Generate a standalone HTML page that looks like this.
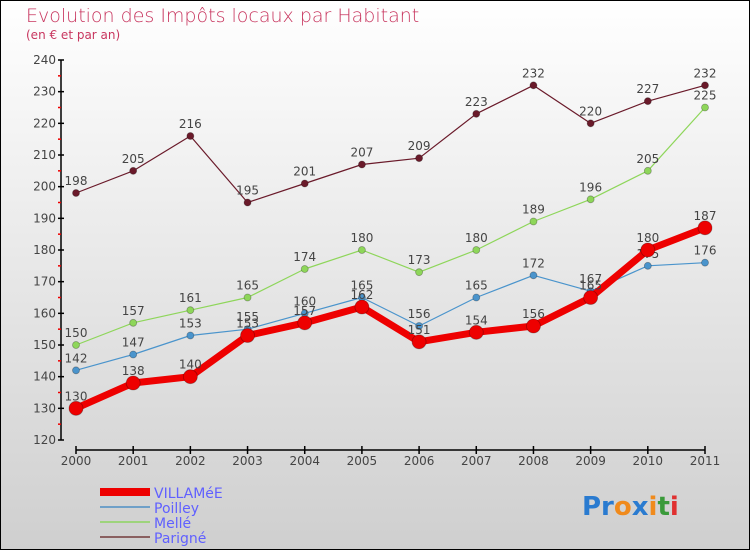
<!DOCTYPE html>
<html><head><meta charset="utf-8"><style>
body{margin:0}
svg{display:block;font-family:"DejaVu Sans","Liberation Sans",sans-serif}
</style></head><body>
<svg id="c" width="750" height="550" viewBox="0 0 750 550">
<defs><linearGradient id="bg" x1="0" y1="0" x2="0" y2="1"><stop offset="0" stop-color="#ffffff"/><stop offset="1" stop-color="#cfcfcf"/></linearGradient></defs>
<rect x="0.5" y="0.5" width="749" height="549" fill="url(#bg)" stroke="#000"/>
<text x="26" y="22" font-size="19" fill="#c8365f" font-weight="300">Evolution des Impôts locaux par Habitant</text>
<text x="26" y="39" font-size="12" fill="#c8365f">(en € et par an)</text>
<g id="axes"></g>
<g id="series"></g>
<g font-size="14" fill="#6060ff">
<line x1="100" y1="492" x2="150" y2="492" stroke="#e00" stroke-width="8"/>
<text x="154" y="498">VILLAMéE</text>
<line x1="100" y1="507" x2="150" y2="507" stroke="#6fa0c8" stroke-width="2"/>
<text x="154" y="513">Poilley</text>
<line x1="100" y1="522" x2="150" y2="522" stroke="#9ed47c" stroke-width="2"/>
<text x="154" y="528">Mellé</text>
<line x1="100" y1="537" x2="150" y2="537" stroke="#8a6060" stroke-width="2"/>
<text x="154" y="543">Parigné</text>
</g>
<text x="582" y="515" font-size="26" font-weight="bold"><tspan fill="#2a7bd0">Pr</tspan><tspan fill="#f08a1c">o</tspan><tspan fill="#2a7bd0">x</tspan><tspan fill="#f08a1c">i</tspan><tspan fill="#3a9a3a">t</tspan><tspan fill="#e03030">i</tspan></text>
</svg>
<script>
const years=["2000","2001","2002","2003","2004","2005","2006","2007","2008","2009","2010","2011"];
const yTicks=[120,130,140,150,160,170,180,190,200,210,220,230,240];
const villamee=[130,138,140,153,157,162,151,154,156,165,180,187];
const poilley=[142,147,153,155,160,165,156,165,172,167,175,176];
const melle=[150,157,161,165,174,180,173,180,189,196,205,225];
const parigne=[198,205,216,195,201,207,209,223,232,220,227,232];
const NS="http://www.w3.org/2000/svg";
function xs(i){return 76+i*(705-76)/(years.length-1);}
function ys(v){return 440-(v-120)*(380/120);}
function mk(t,a,p){const e=document.createElementNS(NS,t);for(const k in a)e.setAttribute(k,a[k]);p.appendChild(e);return e;}
const ax=document.getElementById('axes');
mk('line',{x1:61,y1:ys(240),x2:61,y2:ys(120),stroke:'#000','stroke-width':1.5},ax);
yTicks.forEach((v,i)=>{
 const t=mk('line',{x1:58,y1:ys(v),x2:64,y2:ys(v),stroke:'#000','stroke-width':1.5},ax);
 
 
 const l=mk('text',{x:56,y:ys(v)+4,'text-anchor':'end','font-size':12,fill:'#444'},ax);
 l.textContent=v;
 
 
 if(i<yTicks.length-1){mk('line',{x1:58,y1:ys(v+5),x2:61,y2:ys(v+5),stroke:'#e00','stroke-width':1.5},ax);}
});
mk('line',{x1:xs(0),y1:450,x2:xs(years.length-1),y2:450,stroke:'#000','stroke-width':1.5},ax);
years.forEach((y,i)=>{
 mk('line',{x1:xs(i),y1:446,x2:xs(i),y2:454,stroke:'#000','stroke-width':1.5},ax);
 const l=mk('text',{x:xs(i),y:465,'text-anchor':'middle','font-size':12,fill:'#444'},ax);
 l.textContent=y;
 
 
});
const sg=document.getElementById('series');
function draw(vals,color,w,r,name){
 const g=mk('g',{},sg);
 
 
 mk('polyline',{points:vals.map((v,i)=>xs(i)+','+ys(v)).join(' '),fill:'none',stroke:color,'stroke-width':w,'stroke-linejoin':'round'},g);
 vals.forEach((v,i)=>{
  const c=mk('circle',{cx:xs(i),cy:ys(v),r:r,fill:color,stroke:'rgba(0,0,0,0.3)','stroke-width':0.8},g);
  
  
  const t=mk('text',{x:xs(i),y:ys(v)-8,'text-anchor':'middle','font-size':12,fill:'#444'},g);
  t.textContent=v;
  
  
 });
}
draw(parigne,'#6a1a2a',1.2,3.5,'parigne');
draw(melle,'#8ed65a',1.2,3.5,'melle');
draw(poilley,'#4a94cc',1.2,3.5,'poilley');
draw(villamee,'#ee0000',7,7,'villamee');
</script>
</body></html>
